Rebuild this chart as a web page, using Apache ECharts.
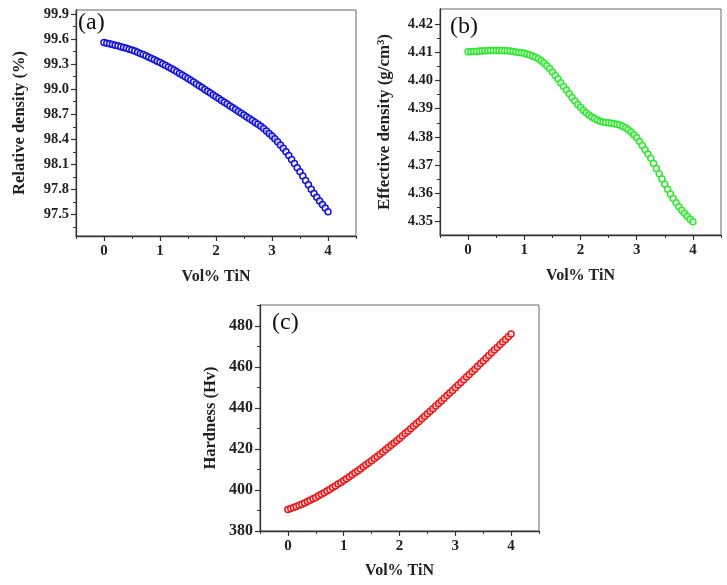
<!DOCTYPE html>
<html>
<head>
<meta charset="utf-8">
<script src="https://cdn.jsdelivr.net/npm/echarts@6/dist/echarts.min.js"></script>
<style>
html,body{margin:0;padding:0;background:#fff;}
#chart{width:727px;height:585px;}
</style>
</head>
<body>
<div id="chart"></div>
<script>
// Sampling positions (Vol% TiN)
const volTiN = [0.00,0.05,0.10,0.15,0.20,0.25,0.30,0.35,0.40,0.45,0.50,0.55,0.60,0.65,0.70,0.75,0.80,0.85,0.90,0.95,
1.00,1.05,1.10,1.15,1.20,1.25,1.30,1.35,1.40,1.45,1.50,1.55,1.60,1.65,1.70,1.75,1.80,1.85,1.90,1.95,
2.00,2.05,2.10,2.15,2.20,2.25,2.30,2.35,2.40,2.45,2.50,2.55,2.60,2.65,2.70,2.75,2.80,2.85,2.90,2.95,
3.00,3.05,3.10,3.15,3.20,3.25,3.30,3.35,3.40,3.45,3.50,3.55,3.60,3.65,3.70,3.75,3.80,3.85,3.90,3.95,4.00];

// (a) Relative density (%)
const relDensity = [99.560,99.552,99.544,99.536,99.528,99.520,99.510,99.500,99.490,99.480,
99.470,99.457,99.443,99.429,99.415,99.400,99.384,99.368,99.352,99.336,
99.320,99.302,99.284,99.266,99.248,99.230,99.210,99.190,99.170,99.150,
99.130,99.108,99.086,99.064,99.042,99.020,98.998,98.976,98.954,98.932,
98.910,98.888,98.866,98.844,98.822,98.800,98.778,98.756,98.734,98.712,
98.690,98.668,98.646,98.624,98.602,98.580,98.555,98.528,98.500,98.470,
98.440,98.406,98.370,98.332,98.292,98.250,98.204,98.156,98.108,98.058,
98.010,97.958,97.906,97.854,97.802,97.750,97.704,97.660,97.618,97.575,97.530];

// (b) Effective density (g/cm3)
const effDensity = [4.4102,4.4102,4.4103,4.4103,4.4104,4.4104,4.4105,4.4105,4.4106,4.4106,
4.4106,4.4106,4.4106,4.4105,4.4105,4.4104,4.4103,4.4101,4.4099,4.4098,
4.4096,4.4093,4.4090,4.4086,4.4082,4.4077,4.4070,4.4062,4.4052,4.4042,
4.4030,4.4018,4.4005,4.3992,4.3979,4.3966,4.3953,4.3940,4.3927,4.3915,
4.3905,4.3895,4.3886,4.3878,4.3871,4.3865,4.3860,4.3856,4.3853,4.3851,
4.3850,4.3849,4.3847,4.3845,4.3842,4.3838,4.3833,4.3826,4.3818,4.3808,
4.3797,4.3784,4.3770,4.3755,4.3740,4.3725,4.3706,4.3688,4.3670,4.3651,
4.3633,4.3615,4.3598,4.3582,4.3567,4.3553,4.3541,4.3530,4.3519,4.3509,4.3500];

// (c) Hardness (Hv)
const hardness = [390.5,391.0,391.5,392.0,392.6,393.1,393.7,394.4,395.0,395.7,
396.4,397.2,397.9,398.7,399.5,400.3,401.2,402.0,402.9,403.7,
404.6,405.5,406.5,407.4,408.4,409.3,410.3,411.3,412.3,413.3,
414.3,415.4,416.4,417.5,418.5,419.6,420.7,421.8,423.0,424.1,
425.2,426.4,427.6,428.7,429.9,431.1,432.3,433.5,434.8,436.0,
437.2,438.5,439.7,441.0,442.2,443.5,444.8,446.1,447.3,448.6,
449.9,451.2,452.5,453.8,455.1,456.4,457.7,459.0,460.4,461.7,
463.0,464.3,465.6,467.0,468.3,469.6,470.9,472.2,473.5,474.8,476.1];

// Tick labels
const xTicks = [0,1,2,3,4];
const xMinorTicks = [-0.5,0.5,1.5,2.5,3.5,4.5];
const yTicksA = [97.5,97.8,98.1,98.4,98.7,99.0,99.3,99.6,99.9];
const yMinorA = [97.35,97.65,97.95,98.25,98.55,98.85,99.15,99.45,99.75];
const yTicksB = [4.35,4.36,4.37,4.38,4.39,4.40,4.41,4.42];
const yMinorB = [4.355,4.365,4.375,4.385,4.395,4.405,4.415];
const yTicksC = [380,400,420,440,460,480];
const yMinorC = [390,410,430,450,470,490];

const panelLabels = ['(a)','(b)','(c)'];
const xTitle = 'Vol% TiN';
const yTitles = ['Relative density (%)','Effective density (g/cm\u00B3)','Hardness (Hv)'];

const FONT = '"Liberation Serif","Times New Roman",serif';
const AXC = '#333';

const panels = [
  {grid:{left:76, top:10, width:280, height:226}, ymin:97.24, ymax:99.95, yt:yTicksA, ym:yMinorA, fmt:v=>v.toFixed(1), data:relDensity, color:'#1212d8', yGap:48, xGap:33, yls:14.5, yns:16.5, lab:{left:78,top:11}},
  {grid:{left:440, top:9, width:281, height:226}, ymin:4.3453, ymax:4.4253, yt:yTicksB, ym:yMinorB, fmt:v=>v.toFixed(2), data:effDensity, color:'#2ee82e', yGap:47, xGap:33, yls:14.5, yns:17, lab:{left:450,top:15}},
  {grid:{left:260, top:305, width:279, height:226}, ymin:380, ymax:490.3, yt:yTicksC, ym:yMinorC, fmt:v=>String(Math.round(v)), data:hardness, color:'#e81818', yGap:41, xGap:32, yls:16, yns:16.5, lab:{left:272,top:311}}
];

const grid=[], xAxis=[], yAxis=[], series=[], title=[];
panels.forEach((p,i)=>{
  grid.push(Object.assign({show:true, borderColor:'#666', borderWidth:1, backgroundColor:'transparent'}, p.grid));
  const xi = xAxis.length, yi = yAxis.length;
  // main x axis
  xAxis.push({type:'value', gridIndex:i, position:'bottom', offset:0, min:-0.5, max:4.5,
    name:xTitle, nameLocation:'middle', nameGap:p.xGap,
    nameTextStyle:{fontFamily:FONT, fontWeight:'bold', fontSize:16, color:'#222'},
    axisLine:{show:true, onZero:false, lineStyle:{color:AXC, width:1.3}},
    axisTick:{show:true, inside:false, length:5, customValues:xTicks, lineStyle:{color:AXC, width:1.2}},
    axisLabel:{show:true, customValues:xTicks, margin:8, fontFamily:FONT, fontWeight:'bold', fontSize:15, color:'#222', formatter:v=>String(v)},
    splitLine:{show:false}});
  // minor x ticks
  xAxis.push({type:'value', gridIndex:i, position:'bottom', offset:0, min:-0.5, max:4.5,
    axisLine:{show:false, onZero:false},
    axisTick:{show:true, inside:false, length:3, customValues:xMinorTicks, lineStyle:{color:AXC, width:1}},
    axisLabel:{show:false}, splitLine:{show:false}});
  yAxis.push({type:'value', gridIndex:i, position:'left', offset:0, min:p.ymin, max:p.ymax,
    name:yTitles[i], nameLocation:'middle', nameGap:p.yGap, nameRotate:90,
    nameTextStyle:{fontFamily:FONT, fontWeight:'bold', fontSize:p.yns, color:'#222'},
    axisLine:{show:true, onZero:false, lineStyle:{color:AXC, width:1.3}},
    axisTick:{show:true, inside:false, length:5, customValues:p.yt, lineStyle:{color:AXC, width:1.2}},
    axisLabel:{show:true, customValues:p.yt, margin:7, fontFamily:FONT, fontWeight:'bold', fontSize:p.yls, color:'#222', formatter:p.fmt},
    splitLine:{show:false}});
  yAxis.push({type:'value', gridIndex:i, position:'left', offset:0, min:p.ymin, max:p.ymax,
    axisLine:{show:false, onZero:false},
    axisTick:{show:true, inside:false, length:3, customValues:p.ym, lineStyle:{color:AXC, width:1}},
    axisLabel:{show:false}, splitLine:{show:false}});
  series.push({type:'line', xAxisIndex:xi, yAxisIndex:yi,
    data: volTiN.map((x,k)=>[x, p.data[k]]),
    lineStyle:{width:0, opacity:0},
    symbol:'circle', symbolSize:6,
    itemStyle:{color:'rgba(255,255,255,0.6)', borderColor:p.color, borderWidth:1.5},
    showSymbol:true, silent:true, animation:false});
  title.push({text:panelLabels[i], left:p.lab.left, top:p.lab.top,
    textStyle:{fontFamily:FONT, fontWeight:'normal', fontSize:24, color:'#111'}, padding:0});
});

const chart = echarts.init(document.getElementById('chart'), null, {renderer:'canvas'});
chart.setOption({backgroundColor:'#fff', animation:false, title, grid, xAxis, yAxis, series});
</script>
</body>
</html>
